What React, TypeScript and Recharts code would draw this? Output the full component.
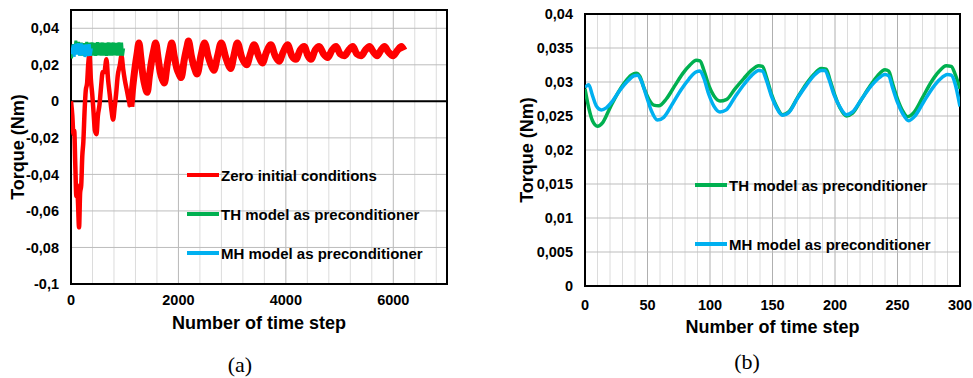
import {
  LineChart,
  Line,
  XAxis,
  YAxis,
  CartesianGrid,
  ReferenceLine,
  ReferenceArea,
  Label,
} from 'recharts';

const FONT = '"Liberation Sans", Arial, sans-serif';

// ---- (a) long run, 0..7000 steps ----
const aStepTicks = [0, 2000, 4000, 6000];
const aTorqueTicks = [-0.1, -0.08, -0.06, -0.04, -0.02, 0, 0.02, 0.04];
const aMinorSteps = [400, 800, 1200, 1600, 2400, 2800, 3200, 3600, 4400, 4800, 5200, 5600, 6400, 6800];
const aMajorSteps = [2000, 4000, 6000];

const zeroSteps = [
  0, 25, 45, 60, 80, 100, 115, 130, 150, 170,
  190, 210, 230, 255, 275, 300, 320, 345, 370, 395,
  420, 445, 475, 500, 530, 560, 590, 620, 660, 690,
  720, 750, 785, 810, 840, 870, 910, 940, 970, 1000,
  1040, 1080, 1115, 1150, 1190, 1230, 1265, 1300, 1340, 1380,
  1420, 1460, 1500, 1540, 1576, 1620, 1660, 1700, 1738, 1790,
  1840, 1876, 1920, 1970, 2010, 2050, 2110, 2160, 2187, 2240,
  2300, 2349, 2420, 2486, 2560, 2620, 2660, 2730, 2797, 2880,
  2930, 2972, 3040, 3097, 3180, 3271, 3340, 3408, 3490, 3564,
  3640, 3720, 3800, 3875, 3950, 4031, 4110, 4187, 4265, 4342,
  4410, 4467, 4545, 4622, 4700, 4779, 4860, 4934, 5010, 5090,
  5170, 5246, 5320, 5401, 5480, 5557, 5630, 5700, 5770, 5837,
  5910, 5994, 6080, 6150, 6200,
];
const zeroTorque = [
  0, -0.008, -0.018, -0.016, -0.035, -0.052, -0.046, -0.055, -0.069, -0.05,
  -0.046, -0.03, -0.022, -0.004, 0.006, 0.01, 0.02, 0.026, 0.012, 0.004,
  -0.006, -0.016, -0.018, -0.008, -0.002, 0.008, 0.016, 0.016, 0.023, 0.012,
  0.004, -0.004, -0.01, -0.004, 0.004, 0.014, 0.02, 0.025, 0.018, 0.012,
  0.006, 0.0, -0.003, 0.008, 0.018, 0.026, 0.032, 0.024, 0.014, 0.008,
  0.005, 0.014, 0.022, 0.028, 0.032, 0.024, 0.016, 0.012, 0.01, 0.02,
  0.028, 0.032, 0.025, 0.018, 0.015, 0.013, 0.023, 0.03, 0.033, 0.025,
  0.018, 0.015, 0.025, 0.032, 0.024, 0.019, 0.017, 0.025, 0.032, 0.024,
  0.02, 0.018, 0.026, 0.032, 0.024, 0.02, 0.026, 0.031, 0.025, 0.021,
  0.027, 0.031, 0.025, 0.022, 0.027, 0.031, 0.025, 0.023, 0.028, 0.03,
  0.025, 0.023, 0.028, 0.03, 0.026, 0.024, 0.028, 0.03, 0.026, 0.025,
  0.028, 0.03, 0.026, 0.025, 0.028, 0.03, 0.027, 0.025, 0.028, 0.03,
  0.027, 0.025, 0.028, 0.03, 0.028,
];
// the transient part is drawn thinner than the noisy settled part
const zeroSplitStep = 1115;

const thLongSteps = [
  0, 10, 42, 57, 91, 110, 141, 159, 192, 210,
  242, 258, 292, 310, 342, 360, 392, 410, 442, 460,
  492, 510, 542, 560, 592, 610, 642, 660, 692, 710,
  742, 760, 792, 810, 842, 860, 892, 910, 942, 960,
  980,
];
const thLongTorque = [
  0.029, 0.0235, 0.0313, 0.0264, 0.0332, 0.0272, 0.0325, 0.0251, 0.0321, 0.025,
  0.0319, 0.0249, 0.0325, 0.0252, 0.0322, 0.025, 0.0323, 0.0251, 0.032, 0.0249,
  0.0324, 0.0252, 0.0321, 0.025, 0.0322, 0.0251, 0.032, 0.0249, 0.0323, 0.0251,
  0.0321, 0.025, 0.0322, 0.0252, 0.032, 0.025, 0.0323, 0.0251, 0.0321, 0.025,
  0.029,
];

const mhLongSteps = [0, 13, 42, 58, 92, 108, 141, 158, 192, 209, 242, 259, 291, 309, 341, 358, 380];
const mhLongTorque = [
  0.0292, 0.0259, 0.031, 0.0244, 0.0316, 0.0256, 0.0318, 0.0251, 0.0317, 0.0252,
  0.0311, 0.0243, 0.0312, 0.0248, 0.0313, 0.0249, 0.029,
];

// ---- (b) first 300 steps ----
const bStepTicks = [0, 50, 100, 150, 200, 250, 300];
const bTorqueTicks = [0, 0.005, 0.01, 0.015, 0.02, 0.025, 0.03, 0.035, 0.04];
const bMinorSteps = [
  10, 20, 30, 40, 60, 70, 80, 90, 110, 120, 130, 140, 160, 170, 180, 190,
  210, 220, 230, 240, 260, 270, 280, 290,
];
const bMajorSteps = [50, 100, 150, 200, 250];

const thSteps = [
  0, 3, 6, 10, 14, 20, 26, 32, 37, 41,
  44, 47, 51, 55, 59, 65, 72, 78, 84, 89,
  92, 95, 99, 103, 108, 113, 120, 127, 133, 139,
  142, 145, 149, 153, 158, 163, 170, 177, 183, 189,
  193, 196, 200, 204, 209, 214, 221, 228, 234, 240,
  243, 246, 250, 254, 258, 263, 270, 277, 283, 289,
  293, 296, 300,
];
const thTorque = [
  0.029, 0.0262, 0.0243, 0.0235, 0.024, 0.0262, 0.0283, 0.03, 0.031, 0.0313,
  0.0308, 0.0292, 0.0275, 0.0266, 0.0265, 0.0275, 0.0295, 0.0312, 0.0325, 0.0332,
  0.0331, 0.0318, 0.0295, 0.028, 0.0272, 0.0274, 0.029, 0.0305, 0.0317, 0.0324,
  0.0323, 0.0308, 0.0283, 0.0265, 0.0252, 0.0256, 0.0277, 0.0297, 0.0311, 0.032,
  0.0319, 0.0303, 0.028, 0.0262, 0.025, 0.0254, 0.0274, 0.0294, 0.0309, 0.0318,
  0.0316, 0.0298, 0.0275, 0.0258, 0.0249, 0.0255, 0.0277, 0.03, 0.0315, 0.0324,
  0.0323, 0.0312, 0.029,
];

const mhSteps = [
  0, 3, 6, 9, 13, 17, 22, 28, 34, 39,
  42, 45, 49, 53, 58, 63, 70, 77, 83, 89,
  92, 95, 99, 103, 108, 113, 120, 127, 133, 139,
  142, 145, 149, 153, 158, 163, 170, 177, 183, 189,
  192, 195, 199, 204, 209, 214, 221, 228, 234, 240,
  243, 246, 250, 254, 259, 264, 271, 278, 284, 290,
  293, 296, 300,
];
const mhTorque = [
  0.0292, 0.0296, 0.028, 0.0265, 0.0259, 0.0262, 0.0272, 0.0288, 0.0301, 0.0309,
  0.031, 0.0302, 0.028, 0.0258, 0.0244, 0.0248, 0.0268, 0.0289, 0.0304, 0.0315,
  0.0316, 0.0306, 0.0282, 0.0265, 0.0256, 0.0259, 0.0278, 0.0296, 0.0309, 0.0317,
  0.0316, 0.0303, 0.028, 0.0263, 0.0251, 0.0255, 0.0276, 0.0295, 0.0309, 0.0317,
  0.0317, 0.0305, 0.0282, 0.0263, 0.0252, 0.0256, 0.0274, 0.0292, 0.0304, 0.0311,
  0.0309, 0.0292, 0.027, 0.0254, 0.0243, 0.025, 0.0271, 0.0291, 0.0304, 0.0311,
  0.031, 0.0298, 0.0264,
];

const RED = '#ff0000';
const GREEN = '#00b050';
const BLUE = '#00b0f0';

const toPoints = (steps: number[], torque: number[]) =>
  steps.map((step, i) => ({ step, torque: torque[i] }));

const commaFmt = (v: number) => String(v).replace('.', ',');

// vertical grid positions, through the axis scale when the grid gets it
const gridAt = (values: number[], max: number) => ({ xAxis, offset }: any) =>
  values.map((v) =>
    xAxis && typeof xAxis.scale === 'function'
      ? xAxis.scale(v)
      : offset.left + (v / max) * offset.width
  );

const tickStyle = { fill: '#000', fontSize: 14.5, fontWeight: 700, fontFamily: FONT };
const titleStyle = { fill: '#000', fontWeight: 700, fontFamily: FONT };

function LegendOverlay({ left, items }: { left: number; items: { y: number; color: string; text: string }[] }) {
  return (
    <>
      {items.map((it) => (
        <div
          key={it.text}
          style={{
            position: 'absolute',
            left,
            top: it.y - 10,
            height: 20,
            display: 'flex',
            alignItems: 'center',
            whiteSpace: 'nowrap',
          }}
        >
          <div style={{ width: 32, height: 4, background: it.color }} />
          <span style={{ marginLeft: 2, fontFamily: FONT, fontWeight: 700, fontSize: 15, color: '#000' }}>
            {it.text}
          </span>
        </div>
      ))}
    </>
  );
}

function Caption({ x, y, text }: { x: number; y: number; text: string }) {
  return (
    <div
      style={{
        position: 'absolute',
        left: x - 40,
        top: y - 12,
        width: 80,
        textAlign: 'center',
        fontFamily: '"Liberation Serif", "Times New Roman", serif',
        fontSize: 22,
        lineHeight: '24px',
        color: '#000',
      }}
    >
      {text}
    </div>
  );
}

function ChartA() {
  const zeroPts = toPoints(zeroSteps, zeroTorque);
  return (
    <div style={{ position: 'absolute', left: 0, top: 0 }}>
      <LineChart width={460} height={378} margin={{ top: 10, right: 13, bottom: 0, left: 0 }}>
        <CartesianGrid horizontal={false} stroke="#dcdcdc" verticalCoordinatesGenerator={gridAt(aMinorSteps, 7000)} />
        <CartesianGrid horizontal={false} stroke="#b8b8b8" verticalCoordinatesGenerator={gridAt(aMajorSteps, 7000)} />
        <CartesianGrid vertical={false} stroke="#bdbdbd" />
        <XAxis
          type="number"
          dataKey="step"
          domain={[0, 7000]}
          ticks={aStepTicks}
          interval={0}
          height={94}
          axisLine={false}
          tickLine={false}
          tickMargin={5}
          tick={tickStyle}
          allowDataOverflow
        >
          <Label value="Number of time step" position="insideTop" offset={32} style={{ ...titleStyle, fontSize: 18 }} />
        </XAxis>
        <YAxis
          type="number"
          dataKey="torque"
          domain={[-0.1, 0.05]}
          ticks={aTorqueTicks}
          interval={0}
          width={71}
          axisLine={false}
          tickLine={false}
          tickMargin={6}
          tick={tickStyle}
          tickFormatter={commaFmt}
          allowDataOverflow
        >
          <Label
            value="Torque (Nm)"
            angle={-90}
            position="insideLeft"
            offset={18}
            style={{ ...titleStyle, fontSize: 18, textAnchor: 'middle' }}
          />
        </YAxis>
        <ReferenceLine y={0} stroke="#000" strokeWidth={2} />
        <Line
          data={zeroPts.filter((p) => p.step <= zeroSplitStep)}
          dataKey="torque"
          name="Zero initial conditions"
          type="monotone"
          stroke={RED}
          strokeWidth={4.5}
          dot={false}
          isAnimationActive={false}
        />
        <Line
          data={zeroPts.filter((p) => p.step >= zeroSplitStep)}
          dataKey="torque"
          name="Zero initial conditions (settled)"
          type="monotone"
          stroke={RED}
          strokeWidth={7}
          dot={false}
          isAnimationActive={false}
        />
        <Line
          data={toPoints(thLongSteps, thLongTorque)}
          dataKey="torque"
          name="TH model as preconditioner"
          type="linear"
          stroke={GREEN}
          strokeWidth={3}
          dot={false}
          isAnimationActive={false}
        />
        <Line
          data={toPoints(mhLongSteps, mhLongTorque)}
          dataKey="torque"
          name="MH model as preconditioner"
          type="linear"
          stroke={BLUE}
          strokeWidth={3}
          dot={false}
          isAnimationActive={false}
        />
        <ReferenceArea x1={0} x2={7000} y1={-0.1} y2={0.05} fill="none" stroke="#000" strokeWidth={2} />
      </LineChart>
      <LegendOverlay
        left={187}
        items={[
          { y: 175, color: RED, text: 'Zero initial conditions' },
          { y: 214, color: GREEN, text: 'TH model as preconditioner' },
          { y: 253, color: BLUE, text: 'MH model as preconditioner' },
        ]}
      />
      <Caption x={240} y={365} text="(a)" />
    </div>
  );
}

function ChartB() {
  return (
    <div style={{ position: 'absolute', left: 500, top: 0 }}>
      <LineChart width={473} height={378} margin={{ top: 14, right: 13, bottom: 0, left: 0 }}>
        <CartesianGrid horizontal={false} stroke="#dcdcdc" verticalCoordinatesGenerator={gridAt(bMinorSteps, 300)} />
        <CartesianGrid horizontal={false} stroke="#b0b0b0" verticalCoordinatesGenerator={gridAt(bMajorSteps, 300)} />
        <CartesianGrid vertical={false} stroke="#bdbdbd" />
        <XAxis
          type="number"
          dataKey="step"
          domain={[0, 300]}
          ticks={bStepTicks}
          interval={0}
          height={92}
          axisLine={false}
          tickLine={false}
          tickMargin={8}
          tick={tickStyle}
          allowDataOverflow
        >
          <Label value="Number of time step" position="insideTop" offset={34} style={{ ...titleStyle, fontSize: 18 }} />
        </XAxis>
        <YAxis
          type="number"
          dataKey="torque"
          domain={[0, 0.04]}
          ticks={bTorqueTicks}
          interval={0}
          width={85}
          axisLine={false}
          tickLine={false}
          tickMargin={6}
          tick={tickStyle}
          tickFormatter={commaFmt}
          allowDataOverflow
        >
          <Label
            value="Torque (Nm)"
            angle={-90}
            position="insideLeft"
            offset={27}
            style={{ ...titleStyle, fontSize: 18, textAnchor: 'middle' }}
          />
        </YAxis>
        <Line
          data={toPoints(thSteps, thTorque)}
          dataKey="torque"
          name="TH model as preconditioner"
          type="monotone"
          stroke={GREEN}
          strokeWidth={3.5}
          dot={false}
          isAnimationActive={false}
        />
        <Line
          data={toPoints(mhSteps, mhTorque)}
          dataKey="torque"
          name="MH model as preconditioner"
          type="monotone"
          stroke={BLUE}
          strokeWidth={3.5}
          dot={false}
          isAnimationActive={false}
        />
        <ReferenceArea x1={0} x2={300} y1={0} y2={0.04} fill="none" stroke="#000" strokeWidth={2} />
      </LineChart>
      <LegendOverlay
        left={195}
        items={[
          { y: 185, color: GREEN, text: 'TH model as preconditioner' },
          { y: 244, color: BLUE, text: 'MH model as preconditioner' },
        ]}
      />
      <Caption x={247} y={362} text="(b)" />
    </div>
  );
}

export default function App() {
  return (
    <div style={{ position: 'absolute', left: 0, top: 0, width: 973, height: 378, background: '#fff', overflow: 'hidden' }}>
      <ChartA />
      <ChartB />
    </div>
  );
}
